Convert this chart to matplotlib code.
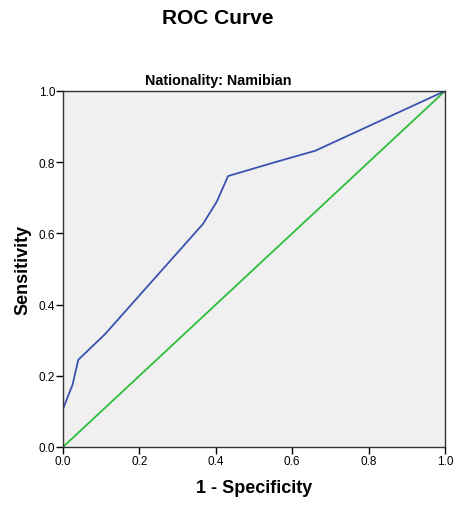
import matplotlib
matplotlib.use("Agg")
import matplotlib.pyplot as plt

fpr = [0.0, 0.0, 0.025, 0.040, 0.11, 0.366, 0.403, 0.432, 0.555, 0.66, 1.0]
tpr = [0.0, 0.107, 0.175, 0.245, 0.317, 0.626, 0.69, 0.761, 0.80, 0.832, 1.0]
ref = [0.0, 1.0]
ticks = [0.0, 0.2, 0.4, 0.6, 0.8, 1.0]
tick_labels = ["0.0", "0.2", "0.4", "0.6", "0.8", "1.0"]

plt.rcParams['font.family'] = ['Liberation Sans', 'DejaVu Sans']

fig = plt.figure(figsize=(4.56, 5.06), dpi=100)
ax = fig.add_axes([63/456, 1-448/506, (445-63)/456, (448-92)/506])
ax.set_facecolor('#F0F0F0')
ax.plot(ref, ref, color='#2DBE3C', lw=1.3)
ax.plot(fpr, tpr, color='#3B52B0', lw=1.3)
ax.set_xlim(0, 1)
ax.set_ylim(0, 1)
ax.set_xticks(ticks)
ax.set_xticklabels(tick_labels)
ax.set_yticks(ticks)
ax.set_yticklabels(tick_labels)
ax.tick_params(direction='out', length=5, width=1, labelsize=8.5, pad=0.5)
for s in ax.spines.values():
    s.set_linewidth(1.0)
    s.set_color('#333333')
ax.set_xlabel('1 - Specificity', fontsize=13, fontweight='bold', labelpad=9)
ax.set_ylabel('Sensitivity', fontsize=13, fontweight='bold', labelpad=5)
fig.text(218/456, 1-81/506, 'Nationality: Namibian', ha='center', va='center',
         fontsize=10.3, fontweight='bold')
fig.text(218/456, 1-18/506, 'ROC Curve', ha='center', va='center', fontsize=15, fontweight='bold')
fig.savefig('out.png', dpi=100)
